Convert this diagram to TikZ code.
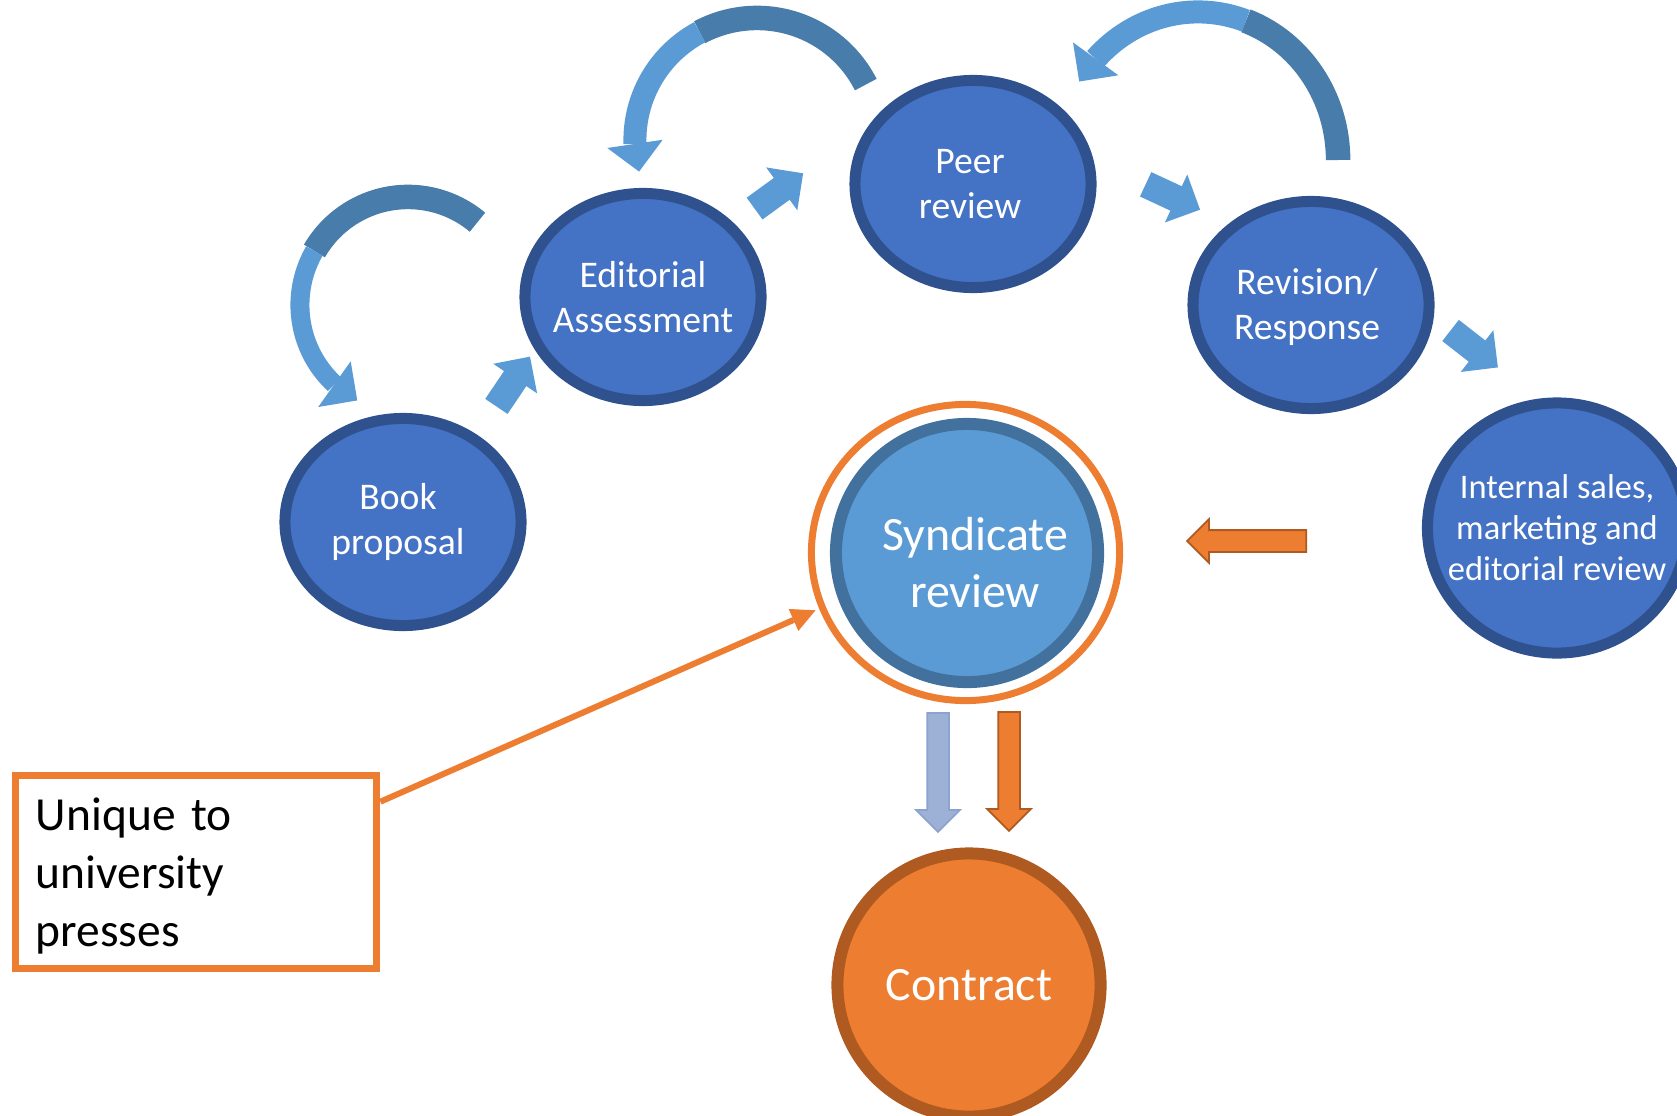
\documentclass[tikz,border=0pt]{standalone}
\usepackage{fontspec}
\setmainfont{Carlito}
\usetikzlibrary{arrows.meta,bending,shapes.geometric,shapes.arrows}
\definecolor{nodeblue}{HTML}{4472C4}
\definecolor{nodeedge}{HTML}{2F528F}
\definecolor{lightblue}{HTML}{5B9BD5}
\definecolor{steelblue}{HTML}{487DAB}
\definecolor{synedge}{HTML}{41719C}
\definecolor{orng}{HTML}{ED7D31}
\definecolor{orngedge}{HTML}{AE5A21}
\definecolor{paleblue}{HTML}{9DB0D6}
\definecolor{paleedge}{HTML}{8DA3CF}

\begin{document}
\begin{tikzpicture}[x=0.01cm,y=0.01cm,
  st/.style={ellipse,draw=nodeedge,fill=nodeblue,line width=1.1mm,inner sep=0pt,
    minimum width=2.36cm,minimum height=2.07cm},
  lbl/.style={text=white,align=center,font=\fontsize{10.7}{12.9}\selectfont},
  smallarr/.style={single arrow,fill=lightblue,inner xsep=0pt,inner ysep=0.1275cm,
    single arrow head extend=0.13cm,minimum height=0.6cm,anchor=tail},
  blockarr/.style={single arrow,draw=orngedge,fill=orng,line width=0.5pt,inner xsep=0pt,
    inner ysep=0.1cm,single arrow head extend=0.11cm,minimum height=1.19cm,anchor=tail},
  loopdark/.style={draw=steelblue,line width=0.245cm},
  looplight/.style={draw=lightblue,line width=0.23cm,
    -{Triangle[length=0.28cm,width=0.56cm,line width=0pt]}}]
  \useasboundingbox (0,0) rectangle (1677,-1115);
  \clip (0,0) rectangle (1677,-1115);

  % review stages
  \node[st,label={[lbl,xshift=-0.05cm]center:Book\\proposal}] (bp) at (403,-522) {};
  \node[st,label={[lbl]center:Editorial\\Assessment}] (ea) at (643,-297) {};
  \node[st,label={[lbl,xshift=-0.03cm]center:Peer\\review}] (pr) at (973,-184) {};
  \node[st,label={[lbl,xshift=-0.04cm,yshift=-0.02cm]center:Revision/\\Response}] (rr) at (1311,-305) {};
  \node[st,minimum width=2.59cm,minimum height=2.5cm,
    label={[lbl,font=\fontsize{9.8}{11.7}\selectfont]center:{Internal sales,\\marketing and\\editorial review}}] (is) at (1557,-528) {};

  % syndicate and contract
  \node[ellipse,draw=orng,line width=0.07cm,minimum width=3.08cm,minimum height=2.96cm,inner sep=0pt] (ring) at (965.5,-552.5) {};
  \node[ellipse,draw=synedge,fill=lightblue,line width=0.12cm,minimum width=2.62cm,minimum height=2.58cm,inner sep=0pt,
    label={[lbl,xshift=0.08cm,yshift=-0.1cm,font=\fontsize{13.6}{16.2}\selectfont]center:Syndicate\\review}] (sr) at (967,-553) {};
  \node[circle,draw=orngedge,fill=orng,line width=0.12cm,minimum size=2.63cm,inner sep=0pt,
    text=white,font=\fontsize{13.6}{16}\selectfont] (ct) at (969,-985) {Contract};

  \node[draw=orng,line width=0.07cm,minimum width=3.615cm,minimum height=1.935cm,text width=3.2cm,text depth=32.8pt,
    inner xsep=0.205cm,align=left,font=\fontsize{13.5}{16.4}\selectfont] (uniq) at (196,-872) {Unique to\\university\\presses};
  \draw[orng,line width=0.06cm,-{Triangle[length=0.24cm,width=0.24cm,line width=0pt]},shorten >=0.04cm]
    ([yshift=-0.3cm]uniq.north east) -- (ring.201);

  % forward arrows
  \node[smallarr,rotate=56] (a1) at (496,-407) {};
  \node[smallarr,rotate=36] (a2) at (754,-209) {};
  \node[smallarr,rotate=-25] (a3) at (1145,-184) {};
  \node[smallarr,rotate=-38] (a4) at (1450,-330) {};
  \node[blockarr,rotate=180] (back) at (1307,-541) {};
  \node[blockarr,draw=paleedge,fill=paleblue,rotate=-90] (dn1) at (938,-712) {};
  \node[blockarr,rotate=-90] (dn2) at (1009,-711) {};

  % feedback loops
  \coordinate (c1) at (408,-305);
  \coordinate (c2) at (757,-140);
  \coordinate (c3) at (1198,-160);
  \draw[loopdark] (c1) ++(50:1.08cm) arc[start angle=50,end angle=150,radius=1.08cm] coordinate (m1);
  \draw[looplight,line width=0.19cm] (m1) arc[start angle=150,end angle=242,radius=1.08cm];
  \draw[loopdark] (c2) ++(27:1.22cm) arc[start angle=27,end angle=118,radius=1.22cm] coordinate (m2);
  \draw[looplight] (m2) arc[start angle=118,end angle=195,radius=1.22cm];
  \draw[loopdark] (c3) ++(0:1.40cm and 1.48cm) arc[start angle=0,end angle=70,x radius=1.40cm,y radius=1.48cm] coordinate (m3);
  \draw[looplight] (m3) arc[start angle=70,end angle=148,x radius=1.40cm,y radius=1.48cm];
\end{tikzpicture}
\end{document}
